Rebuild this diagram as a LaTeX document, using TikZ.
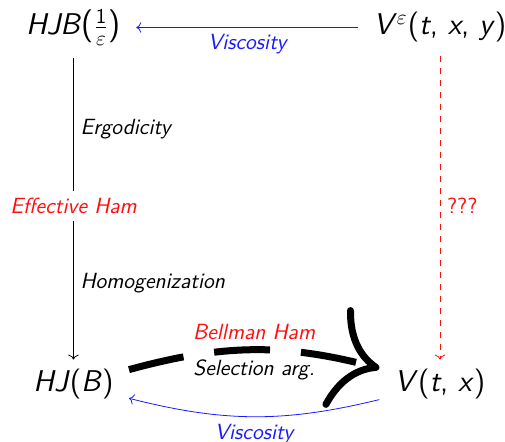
\documentclass[tikz,border=0pt]{standalone}
\usepackage{fix-cm}
\usetikzlibrary{arrows.meta}

\tikzset{
  mainnode/.style={font=\fontsize{15}{18}\selectfont\sffamily, anchor=base,
    inner xsep=7.5pt, inner ysep=5pt, text height=11pt, text depth=3.5pt},
  lbl/.style={font=\fontsize{11}{13}\selectfont\sffamily\slshape},
}
\newcommand{\tallparen}[1]{{\fontsize{16.5}{18}\selectfont#1}}

\begin{document}
\begin{tikzpicture}[x=0.5pt, y=0.5pt]

   %my colors
\definecolor{myblue}{rgb}{0.1, 0.1, 1}
\definecolor{myred}{rgb}{1, 0.05, 0.05}

    % Frame of the picture
    \useasboundingbox (0,0) rectangle (505,-442);

    % The four corners
    \node[mainnode] (hjbeps) at (73.5,-35) {\textsl{HJB}\tallparen{(}$\frac{\mathsf{1}}{\varepsilon}$\tallparen{)}};
    \node[mainnode] (veps) at (440,-35) {\textsl{V}$^{\varepsilon}$(\textsl{t}, \textsl{x}, \textsl{y})};
    \node[mainnode] (hjb) at (73.5,-392) {\textsl{HJ}(\textsl{B})};
    \node[mainnode] (vlim) at (440,-392) {\textsl{V}(\textsl{t}, \textsl{x})};

    % Top: viscosity
    \draw[->, myblue] (veps) -- node[lbl, below, text=myblue] {Viscosity} (hjbeps);

    % Left: ergodicity, effective Ham, homogenization
    \draw[->, shorten <=3pt] (hjbeps) -- node[lbl, pos=0.25, anchor=west] {Ergodicity}
        node[lbl, pos=0.5, fill=white, text=myred] {Effective Ham}
        node[lbl, pos=0.75, anchor=west] {Homogenization} (hjb);

    % Right: unknown limit
    \draw[->, dashed, myred, shorten <=2pt] (veps) -- node[pos=0.5, anchor=west, font=\fontsize{11}{13}\selectfont\sffamily, text=myred] {???} (vlim);

    % Bottom: selection argument (big arrow)
    \draw[line width=3.5pt, dash pattern=on 28pt off 15.5pt,
        -{Computer Modern Rightarrow[length=23pt, width=52pt, line cap=round]}]
        (hjb) to[bend left=15] node[lbl, above, text=myred] {Bellman Ham}
        node[lbl, below] {Selection arg.} (vlim);

    % Bottom: viscosity back
    \draw[->, myblue] (vlim) to[bend left=14] node[lbl, below, text=myblue] {Viscosity} (hjb);

\end{tikzpicture}
\end{document}
